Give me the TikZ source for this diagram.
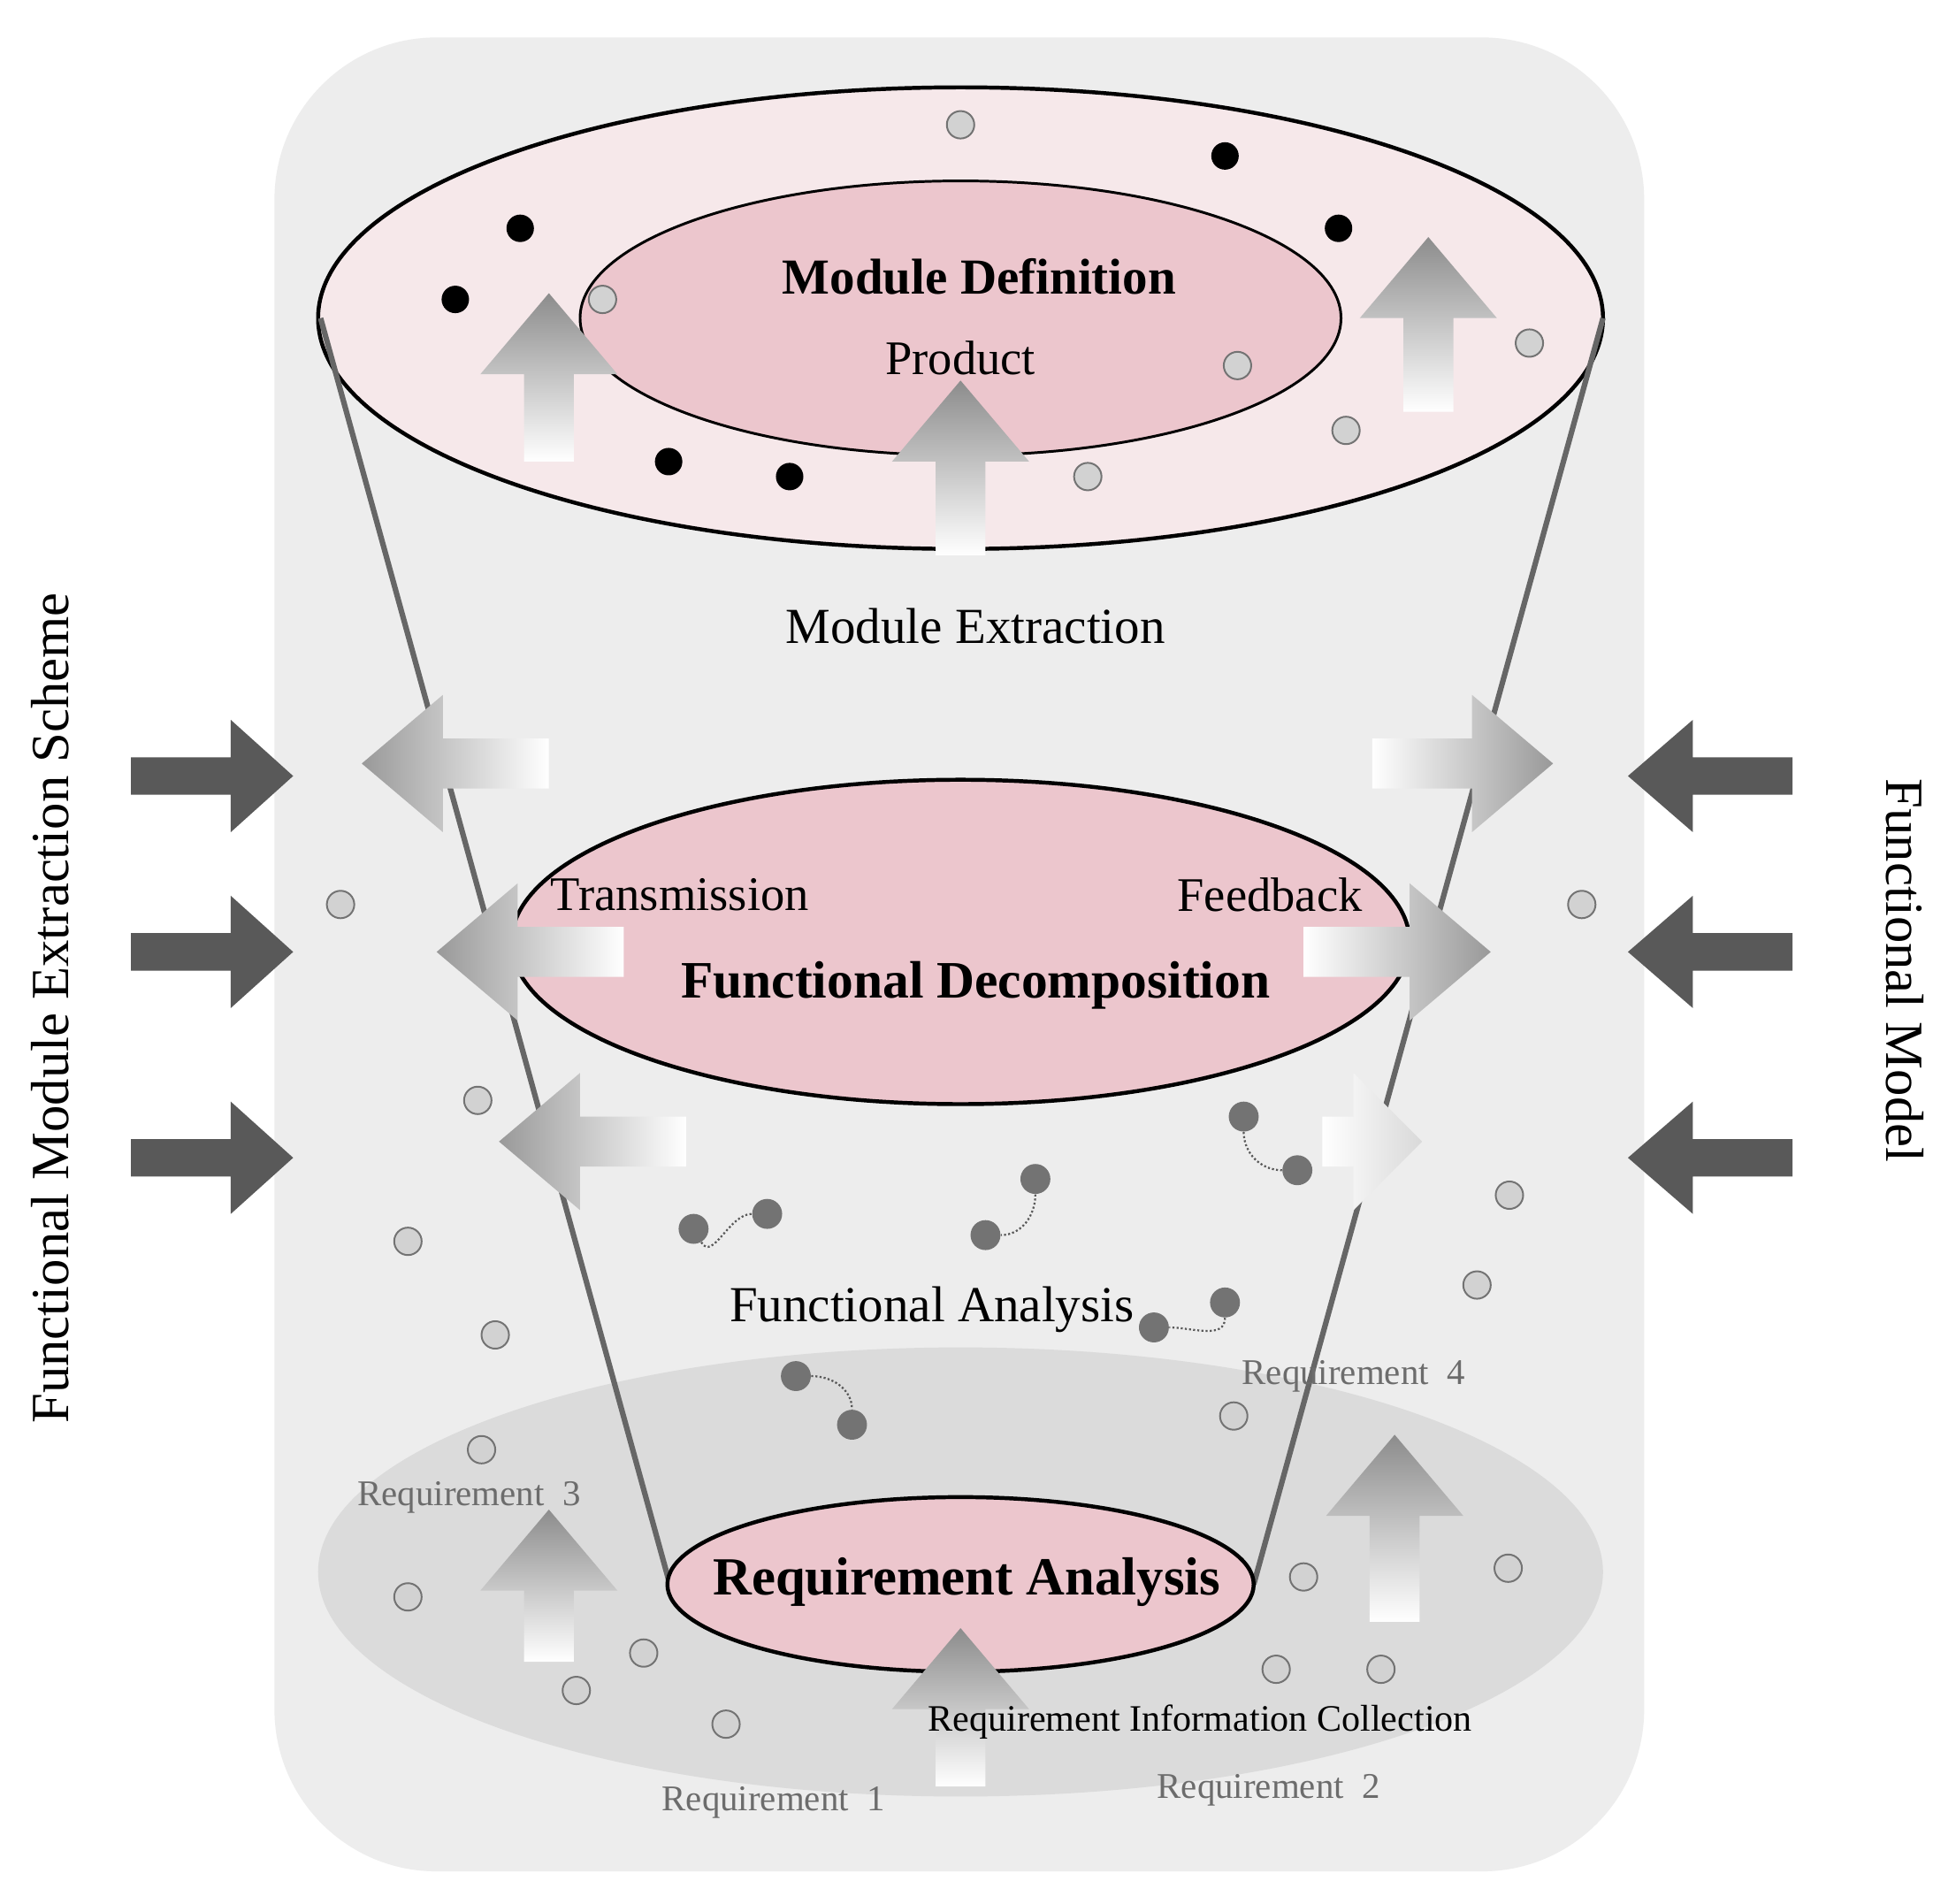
\documentclass[tikz,border=0pt]{standalone}
\usepackage{fontspec}
\setmainfont{Liberation Serif}
\definecolor{pinkA}{RGB}{236,198,205}
\definecolor{pinkB}{RGB}{246,232,234}
\begin{document}
\begin{tikzpicture}[x=0.02cm,y=-0.02cm,
 ldot/.style={circle,draw=gray!90!black,fill=gray!35,line width=0.8pt,minimum size=22*0.02cm,inner sep=0},
 bdot/.style={circle,fill=black,minimum size=22*0.02cm,inner sep=0},
 ddot/.style={circle,fill=gray!90!black,minimum size=24*0.02cm,inner sep=0},
 lnk/.style={densely dotted,gray!70!black,line width=0.9pt},
 lbl/.style={font=\fontsize{22}{26}\selectfont},
 rlbl/.style={font=\fontsize{16.5}{19}\selectfont,text=gray!85!black}]
\useasboundingbox (0,0) rectangle (1568,1526);
\fill[white] (0,0) rectangle (1568,1526);
% background cylinder
\fill[black!7,rounded corners=130*0.02cm] (220,30) rectangle (1318,1500);
% bottom gray ellipse
\fill[black!14] (770,1260) ellipse [x radius=515,y radius=180];
% top ellipse
\draw[line width=1.8pt,fill=pinkB] (770,255) ellipse [x radius=515,y radius=185];
\draw[line width=1.2pt,fill=pinkA] (770,255) ellipse [x radius=305,y radius=110];
% funnel lines
\coordinate (tl) at (257,255); \coordinate (bl) at (537,1270);
\coordinate (tr) at (1285,255); \coordinate (br) at (1005,1270);
\draw[gray!80!black,line width=2.5pt] (tl) -- (bl);
\draw[gray!80!black,line width=2.5pt] (tr) -- (br);
% middle ellipse
\draw[line width=1.8pt,fill=pinkA] (770,755) ellipse [x radius=360,y radius=130];
% bottom ellipse
\draw[line width=1.8pt,fill=pinkA] (770,1270) ellipse [x radius=235,y radius=70];
% gradient arrows
\newcommand\uparr[3]{\path[top color=black!45,bottom color=white] (#1-20,#3)--(#1-20,#2+65)--(#1-55,#2+65)--(#1,#2)--(#1+55,#2+65)--(#1+20,#2+65)--(#1+20,#3)--cycle;}
\newcommand\larr[3]{\path[left color=black!40,right color=white] (#2,#3-20)--(#1+65,#3-20)--(#1+65,#3-55)--(#1,#3)--(#1+65,#3+55)--(#1+65,#3+20)--(#2,#3+20)--cycle;}
\newcommand\rarr[3]{\path[left color=white,right color=black!40] (#2,#3-20)--(#1-65,#3-20)--(#1-65,#3-55)--(#1,#3)--(#1-65,#3+55)--(#1-65,#3+20)--(#2,#3+20)--cycle;}
\uparr{440}{235}{370}
\uparr{770}{305}{445}
\uparr{1145}{190}{330}
\uparr{440}{1210}{1332}
\uparr{1118}{1150}{1300}
\uparr{770}{1305}{1432}
\larr{290}{440}{612}
\larr{350}{500}{763}
\larr{400}{550}{915}
\rarr{1245}{1100}{612}
\rarr{1195}{1045}{763}
\path[left color=white,right color=black!15] (1060,895)--(1085,895)--(1085,860)--(1140,915)--(1085,970)--(1085,935)--(1060,935)--cycle;
% dark arrows
\foreach \yy in {622,763,928}{
 \fill[black!65] (105,\yy-15)--(185,\yy-15)--(185,\yy-45)--(235,\yy)--(185,\yy+45)--(185,\yy+15)--(105,\yy+15)--cycle;
 \fill[black!65] (1437,\yy-15)--(1357,\yy-15)--(1357,\yy-45)--(1305,\yy)--(1357,\yy+45)--(1357,\yy+15)--(1437,\yy+15)--cycle;}
% dots
\foreach \p [count=\i] in {(770,100),(483,240),(992,293),(1226,275),(1079,345),(872,382),(273,725),(1268,725),(383,882),(327,995),(397,1070),(1210,958),(1184,1030),(989,1135),(386,1162),(327,1280),(516,1325),(462,1355),(582,1382),(1045,1264),(1209,1257),(1023,1338),(1107,1338)}
 \node[ldot] (l\i) at \p {};
\foreach \p [count=\i] in {(417,183),(365,240),(982,125),(1073,183),(536,370),(633,382)}
 \node[bdot] (b\i) at \p {};
\node[ddot] (d1) at (556,985) {}; \node[ddot] (d2) at (615,973) {};
\node[ddot] (d3) at (830,945) {}; \node[ddot] (d4) at (790,990) {};
\node[ddot] (d5) at (997,895) {}; \node[ddot] (d6) at (1040,938) {};
\node[ddot] (d7) at (982,1044) {}; \node[ddot] (d8) at (925,1064) {};
\node[ddot] (d9) at (638,1103) {}; \node[ddot] (d10) at (683,1142) {};
\draw[lnk] (d1) to[out=-60,in=180] (d2);
\draw[lnk] (d3) to[out=-90,in=0] (d4);
\draw[lnk] (d5) to[out=-90,in=180] (d6);
\draw[lnk] (d7) to[out=-90,in=0] (d8);
\draw[lnk] (d9) to[out=0,in=90] (d10);
% texts
\node[font=\bfseries\fontsize{23}{27}\selectfont] (t1) at (785,222) {Module Definition};
\node[lbl] (t2) at (770,287) {Product};
\node[lbl,font=\fontsize{23}{27}\selectfont] (t3) at (782,502) {Module Extraction};
\node[lbl] (t4) at (545,717) {Transmission};
\node[lbl] (t5) at (1018,717) {Feedback};
\node[font=\bfseries\fontsize{24}{28}\selectfont] (t6) at (782,790) {Functional Decomposition};
\node[lbl,font=\fontsize{23}{27}\selectfont] (t7) at (747,1050) {Functional Analysis};
\node[font=\bfseries\fontsize{24.5}{28}\selectfont] (t8) at (775,1268) {Requirement Analysis};
\node[font=\fontsize{17}{20}\selectfont] (t9) at (962,1380) {Requirement Information Collection};
\node[rlbl] (r1) at (620,1445) {Requirement\ \ 1};
\node[rlbl] (r2) at (1017,1435) {Requirement\ \ 2};
\node[rlbl] (r3) at (376,1200) {Requirement\ \ 3};
\node[rlbl] (r4) at (1085,1103) {Requirement\ \ 4};
\node[font=\fontsize{24.5}{28}\selectfont,rotate=90] (s1) at (40,808) {Functional Module Extraction Scheme};
\node[font=\fontsize{24.5}{28}\selectfont,rotate=-90] (s2) at (1527,778) {Functional Model};
\end{tikzpicture}
\end{document}
